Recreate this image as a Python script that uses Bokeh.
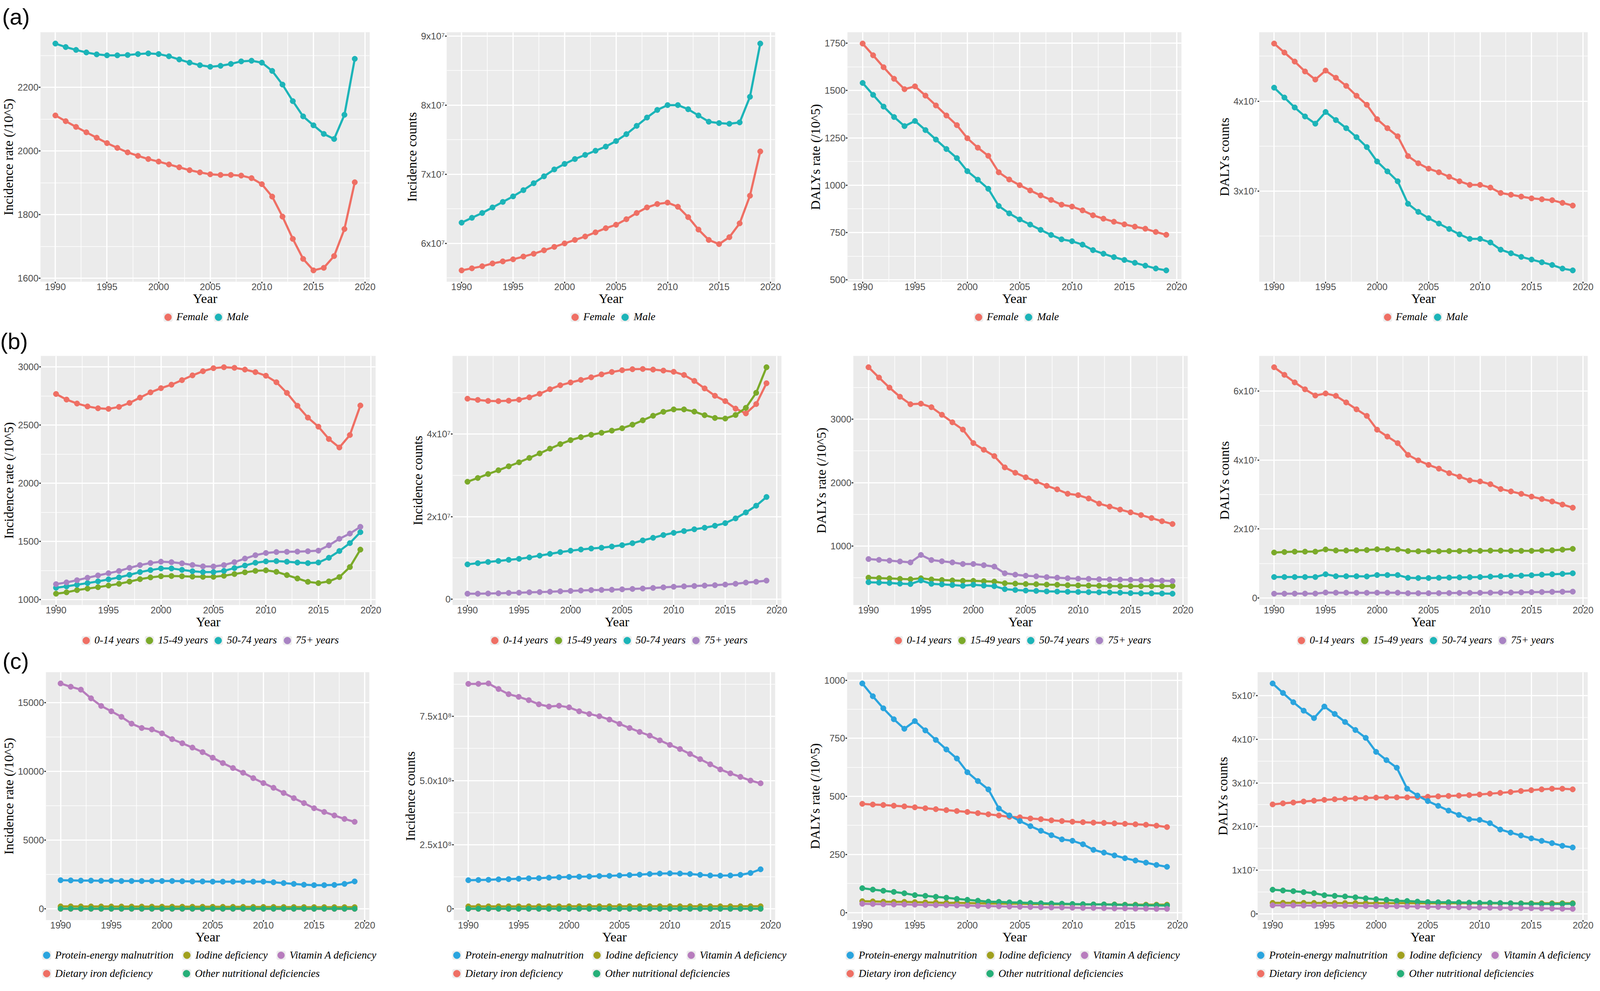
from bokeh.plotting import figure
from bokeh.models import Range1d, FixedTicker, Legend, LegendItem
from bokeh.layouts import row, column
from bokeh.embed import file_html
from bokeh.resources import INLINE

# ---------------- data ----------------
years = list(range(1990, 2020))
x_ticks = [1990, 1995, 2000, 2005, 2010, 2015, 2020]
x_minor = [1987.5, 1992.5, 1997.5, 2002.5, 2007.5, 2012.5, 2017.5]

sex_labels = ["Female", "Male"]
age_labels = ["0-14 years", "15-49 years", "50-74 years", "75+ years"]
cause_labels = ["Dietary iron deficiency", "Iodine deficiency",
                "Other nutritional deficiencies", "Protein-energy malnutrition",
                "Vitamin A deficiency"]

sex_colors = ["#EF6F64", "#1CB4B8"]
age_colors = ["#EF6F64", "#7BAA2A", "#1CB4B8", "#A883C3"]
cause_colors = ["#EF6F64", "#A0A01E", "#26AF78", "#2AA4DE", "#B77CBD"]

E7 = 1e7
E8 = 1e8

# (a) by sex
a_inc_rate_female = [2112, 2094, 2076, 2059, 2042, 2025, 2010, 1996, 1985, 1975, 1967, 1958, 1949, 1940, 1933,
                     1927, 1925, 1925, 1923, 1915, 1896, 1857, 1794, 1724, 1661, 1625, 1633, 1670, 1755, 1902]
a_inc_rate_male = [2338, 2327, 2318, 2310, 2304, 2301, 2301, 2302, 2305, 2307, 2305, 2298, 2288, 2278, 2270,
                   2265, 2268, 2274, 2282, 2284, 2278, 2252, 2209, 2157, 2109, 2081, 2054, 2038, 2114, 2290]
a_inc_cnt_female_e7 = [5.61, 5.64, 5.67, 5.71, 5.74, 5.77, 5.81, 5.85, 5.90, 5.95, 6.00, 6.05, 6.10, 6.16, 6.22,
                       6.27, 6.35, 6.44, 6.52, 6.57, 6.59, 6.53, 6.38, 6.20, 6.05, 5.99, 6.09, 6.29, 6.69, 7.33]
a_inc_cnt_male_e7 = [6.30, 6.37, 6.44, 6.52, 6.60, 6.68, 6.77, 6.87, 6.97, 7.07, 7.15, 7.22, 7.28, 7.34, 7.40,
                     7.48, 7.58, 7.70, 7.82, 7.93, 8.00, 8.00, 7.94, 7.85, 7.76, 7.74, 7.73, 7.75, 8.12, 8.89]
a_daly_rate_female = [1748, 1686, 1623, 1562, 1507, 1522, 1473, 1421, 1368, 1317, 1248, 1198, 1155, 1068, 1030,
                      1000, 972, 946, 922, 897, 887, 867, 841, 823, 807, 793, 781, 770, 753, 738]
a_daly_rate_male = [1540, 1477, 1415, 1360, 1312, 1339, 1291, 1241, 1191, 1143, 1074, 1029, 981, 890, 851,
                    819, 792, 764, 737, 714, 704, 686, 657, 638, 620, 605, 590, 575, 560, 550]
a_daly_cnt_female_e7 = [4.64, 4.54, 4.44, 4.33, 4.24, 4.34, 4.26, 4.17, 4.06, 3.96, 3.80, 3.70, 3.61, 3.39, 3.31,
                        3.25, 3.21, 3.16, 3.11, 3.07, 3.07, 3.04, 2.98, 2.96, 2.94, 2.92, 2.91, 2.90, 2.87, 2.84]
a_daly_cnt_male_e7 = [4.15, 4.04, 3.93, 3.83, 3.75, 3.88, 3.79, 3.70, 3.60, 3.49, 3.33, 3.22, 3.11, 2.86, 2.77,
                      2.70, 2.64, 2.58, 2.52, 2.47, 2.47, 2.43, 2.35, 2.31, 2.27, 2.24, 2.21, 2.18, 2.14, 2.12]

# (b) by age
b_inc_rate_0_14 = [2768, 2720, 2686, 2661, 2645, 2640, 2657, 2691, 2737, 2782, 2818, 2848, 2887, 2928, 2964,
                   2990, 2998, 2993, 2978, 2956, 2925, 2869, 2777, 2667, 2565, 2487, 2381, 2308, 2415, 2669]
b_inc_rate_15_49 = [1051, 1063, 1082, 1095, 1107, 1121, 1136, 1155, 1176, 1191, 1201, 1203, 1201, 1198, 1196,
                    1196, 1205, 1220, 1235, 1247, 1252, 1239, 1211, 1182, 1153, 1142, 1157, 1194, 1280, 1430]
b_inc_rate_50_74 = [1102, 1114, 1128, 1142, 1157, 1174, 1191, 1213, 1237, 1254, 1268, 1268, 1256, 1244, 1237,
                    1237, 1247, 1271, 1293, 1317, 1329, 1331, 1326, 1319, 1314, 1319, 1360, 1418, 1486, 1580]
b_inc_rate_75 = [1133, 1148, 1167, 1188, 1208, 1227, 1246, 1273, 1297, 1315, 1326, 1322, 1312, 1298, 1286,
                 1285, 1297, 1322, 1353, 1382, 1401, 1409, 1411, 1413, 1416, 1421, 1467, 1523, 1568, 1626]
b_inc_cnt_0_14_e7 = [4.854, 4.825, 4.801, 4.796, 4.806, 4.830, 4.887, 4.973, 5.084, 5.180, 5.247, 5.309, 5.372,
                     5.443, 5.501, 5.544, 5.568, 5.573, 5.559, 5.535, 5.506, 5.429, 5.285, 5.103, 4.925, 4.796,
                     4.614, 4.499, 4.724, 5.228]
b_inc_cnt_15_49_e7 = [2.844, 2.935, 3.031, 3.122, 3.218, 3.314, 3.420, 3.530, 3.645, 3.755, 3.851, 3.923, 3.981,
                      4.029, 4.081, 4.139, 4.225, 4.331, 4.441, 4.537, 4.595, 4.595, 4.542, 4.455, 4.388, 4.374,
                      4.460, 4.633, 4.997, 5.616]
b_inc_cnt_50_74_e7 = [0.844, 0.873, 0.902, 0.926, 0.954, 0.978, 1.012, 1.055, 1.098, 1.141, 1.175, 1.204, 1.228,
                      1.247, 1.276, 1.309, 1.357, 1.424, 1.487, 1.554, 1.607, 1.650, 1.693, 1.731, 1.779, 1.842,
                      1.957, 2.101, 2.264, 2.475]
b_inc_cnt_75_e7 = [0.134, 0.134, 0.139, 0.144, 0.153, 0.158, 0.168, 0.173, 0.182, 0.192, 0.201, 0.211, 0.221,
                   0.225, 0.230, 0.240, 0.249, 0.259, 0.273, 0.288, 0.302, 0.312, 0.321, 0.331, 0.340, 0.355,
                   0.374, 0.403, 0.422, 0.451]
b_daly_rate_0_14 = [3822, 3659, 3500, 3356, 3238, 3247, 3191, 3072, 2953, 2838, 2625, 2519, 2419, 2241, 2156,
                    2084, 2019, 1950, 1894, 1825, 1803, 1750, 1669, 1622, 1575, 1531, 1488, 1441, 1391, 1347]
b_daly_rate_15_49 = [500, 494, 488, 481, 475, 491, 472, 463, 456, 450, 450, 444, 438, 412, 406,
                     400, 397, 391, 388, 381, 378, 375, 372, 369, 366, 366, 366, 366, 366, 369]
b_daly_rate_50_74 = [428, 422, 416, 406, 400, 456, 403, 394, 384, 372, 388, 375, 366, 319, 306,
                     297, 291, 284, 281, 278, 275, 272, 269, 266, 263, 256, 253, 253, 250, 247]
b_daly_rate_75 = [794, 781, 769, 756, 741, 859, 778, 759, 741, 716, 716, 697, 675, 569, 547,
                  531, 522, 509, 500, 491, 484, 481, 475, 472, 469, 466, 463, 459, 453, 447]
b_daly_cnt_0_14_e7 = [6.69, 6.47, 6.25, 6.05, 5.87, 5.93, 5.86, 5.67, 5.47, 5.28, 4.88, 4.68, 4.49, 4.15, 3.99,
                      3.86, 3.75, 3.62, 3.52, 3.41, 3.38, 3.30, 3.16, 3.09, 3.02, 2.94, 2.87, 2.80, 2.71, 2.62]
b_daly_cnt_15_49_e7 = [1.320, 1.333, 1.345, 1.345, 1.345, 1.408, 1.379, 1.379, 1.385, 1.391, 1.414, 1.414, 1.408,
                       1.362, 1.356, 1.356, 1.356, 1.362, 1.362, 1.368, 1.368, 1.374, 1.374, 1.368, 1.368, 1.368,
                       1.379, 1.385, 1.402, 1.425]
b_daly_cnt_50_74_e7 = [0.609, 0.609, 0.609, 0.609, 0.609, 0.690, 0.632, 0.632, 0.632, 0.626, 0.667, 0.667, 0.667,
                       0.586, 0.580, 0.580, 0.586, 0.592, 0.598, 0.603, 0.609, 0.621, 0.632, 0.644, 0.649, 0.661,
                       0.678, 0.690, 0.701, 0.718]
b_daly_cnt_75_e7 = [0.126, 0.126, 0.128, 0.130, 0.130, 0.160, 0.155, 0.155, 0.152, 0.152, 0.155, 0.155, 0.155,
                    0.140, 0.140, 0.140, 0.142, 0.145, 0.148, 0.150, 0.152, 0.155, 0.158, 0.160, 0.165, 0.170,
                    0.175, 0.180, 0.183, 0.186]

# (c) by cause
c_inc_rate_iron = [0] * 30
c_inc_rate_iodine = [182, 180, 177, 176, 173, 171, 170, 167, 165, 163, 161, 160, 157, 155, 153,
                     151, 149, 147, 145, 142, 140, 138, 135, 132, 129, 127, 126, 125, 124, 124]
c_inc_rate_other = [14, 14, 13, 13, 13, 12, 12, 12, 11, 11, 11, 11, 10, 10, 10,
                    10, 10, 9, 9, 9, 9, 9, 9, 8, 8, 8, 8, 8, 8, 8]
c_inc_rate_pem = [2085, 2070, 2055, 2055, 2040, 2040, 2025, 2025, 2025, 2025, 2025, 2025, 2010, 1995, 1995,
                  1980, 1980, 1980, 1980, 1980, 1980, 1935, 1875, 1815, 1755, 1725, 1725, 1740, 1815, 1995]
c_inc_rate_vita = [16395, 16155, 15945, 15315, 14760, 14370, 13965, 13470, 13155, 13050, 12765, 12345, 12045,
                   11730, 11400, 10995, 10605, 10245, 9900, 9510, 9150, 8805, 8430, 8055, 7695, 7320, 7050,
                   6795, 6540, 6330]
c_inc_cnt_iron_e8 = [0] * 30
c_inc_cnt_iodine_e8 = [0.096, 0.097, 0.097, 0.098, 0.098, 0.098, 0.099, 0.099, 0.099, 0.099, 0.100, 0.100, 0.100,
                       0.100, 0.100, 0.100, 0.101, 0.101, 0.101, 0.101, 0.101, 0.101, 0.101, 0.100, 0.100, 0.100,
                       0.100, 0.100, 0.101, 0.102]
c_inc_cnt_other_e8 = [0.004, 0.004, 0.004, 0.004, 0.004, 0.004, 0.004, 0.004, 0.004, 0.004, 0.004, 0.004, 0.004,
                      0.004, 0.004, 0.004, 0.004, 0.004, 0.004, 0.004, 0.004, 0.004, 0.004, 0.004, 0.004, 0.004,
                      0.004, 0.004, 0.004, 0.004]
c_inc_cnt_pem_e8 = [1.117, 1.125, 1.133, 1.150, 1.158, 1.174, 1.190, 1.198, 1.214, 1.230, 1.246, 1.254, 1.262,
                    1.278, 1.286, 1.302, 1.318, 1.334, 1.359, 1.375, 1.383, 1.375, 1.359, 1.326, 1.302, 1.294,
                    1.302, 1.326, 1.399, 1.543]
c_inc_cnt_vita_e8 = [8.770, 8.770, 8.786, 8.569, 8.368, 8.264, 8.135, 7.974, 7.886, 7.918, 7.854, 7.701, 7.596,
                     7.508, 7.379, 7.211, 7.050, 6.897, 6.752, 6.568, 6.391, 6.230, 6.037, 5.836, 5.635, 5.434,
                     5.281, 5.145, 5.000, 4.895]
c_daly_rate_iron = [468, 465, 463, 460, 457, 453, 449, 445, 441, 437, 433, 428, 423, 418, 412,
                    410, 405, 402, 397, 394, 391, 389, 387, 386, 384, 382, 380, 378, 374, 368]
c_daly_rate_iodine = [49, 48, 47, 46, 46, 45, 44, 43, 42, 42, 41, 40, 39, 39, 38,
                      38, 37, 37, 36, 36, 36, 35, 35, 35, 35, 34, 34, 34, 34, 34]
c_daly_rate_other = [105, 99, 94, 89, 83, 75, 72, 68, 64, 59, 55, 51, 47, 46, 44,
                     43, 41, 40, 39, 38, 37, 36, 35, 35, 34, 33, 32, 31, 31, 30]
c_daly_rate_pem = [986, 931, 879, 832, 791, 824, 784, 743, 702, 663, 604, 566, 530, 448, 418,
                   394, 372, 352, 333, 315, 309, 294, 270, 258, 246, 234, 224, 215, 205, 197]
c_daly_rate_vita = [38, 37, 36, 35, 35, 34, 33, 32, 32, 31, 30, 29, 28, 27, 26,
                    25, 24, 23, 22, 22, 21, 20, 20, 19, 18, 18, 17, 17, 16, 16]
c_daly_cnt_iron_e7 = [2.507, 2.531, 2.550, 2.573, 2.592, 2.611, 2.625, 2.635, 2.644, 2.653, 2.663, 2.668, 2.668,
                      2.668, 2.672, 2.682, 2.691, 2.701, 2.710, 2.720, 2.734, 2.753, 2.771, 2.790, 2.814, 2.833,
                      2.852, 2.866, 2.866, 2.852]
c_daly_cnt_iodine_e7 = [0.250, 0.251, 0.251, 0.250, 0.249, 0.248, 0.247, 0.246, 0.246, 0.245, 0.244, 0.244, 0.243,
                        0.243, 0.242, 0.242, 0.242, 0.241, 0.241, 0.241, 0.240, 0.240, 0.240, 0.240, 0.240, 0.240,
                        0.241, 0.241, 0.242, 0.243]
c_daly_cnt_other_e7 = [0.552, 0.534, 0.519, 0.496, 0.472, 0.425, 0.411, 0.397, 0.378, 0.354, 0.335, 0.321, 0.297,
                       0.293, 0.279, 0.269, 0.264, 0.264, 0.260, 0.255, 0.250, 0.250, 0.246, 0.241, 0.236, 0.231,
                       0.227, 0.227, 0.227, 0.231]
c_daly_cnt_pem_e7 = [5.279, 5.061, 4.849, 4.655, 4.485, 4.750, 4.580, 4.396, 4.212, 4.032, 3.711, 3.522, 3.347,
                     2.866, 2.710, 2.583, 2.474, 2.365, 2.266, 2.167, 2.153, 2.077, 1.931, 1.860, 1.794, 1.728,
                     1.671, 1.619, 1.558, 1.520]
c_daly_cnt_vita_e7 = [0.194, 0.193, 0.192, 0.190, 0.189, 0.188, 0.186, 0.184, 0.182, 0.180, 0.178, 0.176, 0.174,
                      0.170, 0.166, 0.162, 0.158, 0.154, 0.150, 0.146, 0.143, 0.140, 0.136, 0.133, 0.130, 0.127,
                      0.124, 0.120, 0.116, 0.113]

# ---------------- helpers ----------------
SUP = {7: "\u2077", 8: "\u2078"}


def sci_labels(ticks, exp, decimals=0):
    out = {}
    for t in ticks:
        if t == 0:
            out[t] = "0"
        else:
            out[t] = f"{t / 10 ** exp:.{decimals}f}x10{SUP[exp]}"
    return out


def scaled(arr, s):
    return [v * s for v in arr]


TICK_FONT = "Liberation Sans"
TITLE_FONT = "Liberation Serif"
GLYPH = 44
LINE_W = 5.5
PT_SIZE = 14
KEY_BG = "#EDEDED"


def build(series, ylabel, yticks, yminor, overrides, width, height, left, right, top, bottom,
          tag, tag_standoff):
    vals_all = [v for _, vals, _ in series for v in vals]
    lo, hi = min(vals_all), max(vals_all)
    ypad = 0.05 * (hi - lo)
    xpad = 0.05 * (years[-1] - years[0])
    p = figure(width=width, height=height, output_backend="svg", toolbar_location=None, title=tag,
               x_range=Range1d(years[0] - xpad, years[-1] + xpad),
               y_range=Range1d(lo - ypad, hi + ypad),
               min_border_left=left, min_border_right=right,
               min_border_top=top, min_border_bottom=bottom)
    p.title.align = "left"
    p.title.offset = -left
    p.title.standoff = tag_standoff
    p.title.text_font = TICK_FONT
    p.title.text_font_size = "58px"
    p.title.text_font_style = "normal"
    p.title.text_color = "black"

    p.background_fill_color = "#EBEBEB"
    p.border_fill_color = "white"
    p.outline_line_color = None

    p.xaxis.ticker = FixedTicker(ticks=x_ticks, minor_ticks=x_minor)
    p.yaxis.ticker = FixedTicker(ticks=yticks, minor_ticks=yminor)
    if overrides:
        p.yaxis.major_label_overrides = overrides
    p.xaxis.axis_label = "Year"
    p.yaxis.axis_label = ylabel
    for ax in (p.xaxis[0], p.yaxis[0]):
        ax.axis_line_color = None
        ax.major_tick_line_color = "#333333"
        ax.major_tick_line_width = 3
        ax.major_tick_out = 4
        ax.major_tick_in = 0
        ax.minor_tick_line_color = None
        ax.major_label_text_font = TICK_FONT
        ax.major_label_text_font_size = "24px"
        ax.major_label_text_color = "#4D4D4D"
        ax.axis_label_text_font = TITLE_FONT
        ax.axis_label_text_font_size = "34px"
        ax.axis_label_text_font_style = "normal"
        ax.axis_label_text_color = "black"
    p.xaxis.major_label_standoff = 0
    p.xaxis.axis_label_standoff = 0
    p.yaxis.major_label_standoff = 1
    p.yaxis.axis_label_standoff = 2
    for g in (p.xgrid[0], p.ygrid[0]):
        g.grid_line_color = "white"
        g.grid_line_width = 3.2
        g.minor_grid_line_color = "white"
        g.minor_grid_line_width = 1.6

    for name, vals, color in series:
        p.line(years, vals, line_color=color, line_width=LINE_W)
    for name, vals, color in series:
        p.scatter(years, vals, size=PT_SIZE, fill_color=color, line_color=color, line_width=1)
    return p


LEG_COMMON = dict(orientation="horizontal", glyph_width=GLYPH, glyph_height=GLYPH, label_standoff=0,
                  border_line_color=None, background_fill_alpha=0, padding=0, margin=0,
                  label_text_font=TITLE_FONT, label_text_font_style="italic",
                  label_text_font_size="27px", label_text_color="black")


def legend_fig(series, width, height, left, right, mode):
    single = mode == "single"
    # the legend strip has its own (unit) ranges; the series drawn here fall outside it and
    # only serve as legend glyph sources
    lf = figure(width=width, height=height, output_backend="svg", toolbar_location=None, title=None,
                x_range=Range1d(0, 1), y_range=Range1d(0, 1), x_axis_type=None, y_axis_type=None,
                min_border_left=left if single else 0, min_border_right=right if single else 0,
                min_border_top=0, min_border_bottom=0)
    lf.outline_line_color = None
    lf.background_fill_color = "white"
    lf.border_fill_color = "white"
    first_vals = series[0][1]
    key_bg = lf.scatter(years, first_vals, marker="square", fill_color=KEY_BG, line_color=KEY_BG,
                        line_width=6)
    rends = {}
    for name, vals, color in series:
        rends[name] = lf.scatter(years, vals, size=PT_SIZE, fill_color=color, line_color=color, line_width=1)
    if single:
        items = [LegendItem(label=n, renderers=[key_bg, rends[n]]) for n, _, _ in series]
        lf.add_layout(Legend(items=items, location="center", spacing=4, **LEG_COMMON))
    else:
        row1 = ["Protein-energy malnutrition", "Iodine deficiency", "Vitamin A deficiency"]
        row2 = ["Dietary iron deficiency", "Other nutritional deficiencies"]
        lf.add_layout(Legend(items=[LegendItem(label=n, renderers=[key_bg, rends[n]]) for n in row1],
                             location=(left - 14, height - GLYPH), spacing=12, **LEG_COMMON))
        lf.add_layout(Legend(items=[LegendItem(label=n, renderers=[key_bg, rends[n]]) for n in row2],
                             location=(left - 14, height - GLYPH - 47), spacing=12, label_width=302,
                             **LEG_COMMON))
    return lf


widths = [1025, 1025, 1025, 1009]

# ---- row (a) ----
A = dict(height=791, top=82, bottom=70, leg_h=41, tag="(a)", standoff=15)
a_left = [98, 118, 119, 148]
a_right = [79, 66, 51, 20]


def sex_series(f, m):
    return [(sex_labels[0], f, sex_colors[0]), (sex_labels[1], m, sex_colors[1])]


a_panels = [
    (sex_series(a_inc_rate_female, a_inc_rate_male), "Incidence rate (/10^5)",
     [1600, 1800, 2000, 2200], [1700, 1900, 2100, 2300], None),
    (sex_series(scaled(a_inc_cnt_female_e7, E7), scaled(a_inc_cnt_male_e7, E7)), "Incidence counts",
     [6e7, 7e7, 8e7, 9e7], [5.5e7, 6.5e7, 7.5e7, 8.5e7], sci_labels([6e7, 7e7, 8e7, 9e7], 7)),
    (sex_series(a_daly_rate_female, a_daly_rate_male), "DALYs rate (/10^5)",
     [500, 750, 1000, 1250, 1500, 1750], [625, 875, 1125, 1375, 1625], None),
    (sex_series(scaled(a_daly_cnt_female_e7, E7), scaled(a_daly_cnt_male_e7, E7)), "DALYs counts",
     [3e7, 4e7], [2.5e7, 3.5e7, 4.5e7], sci_labels([3e7, 4e7], 7)),
]

# ---- row (b) ----
B = dict(height=787, top=79, bottom=70, leg_h=41, tag="(b)", standoff=12)
b_left = [104, 133, 134, 148]
b_right = [64, 50, 35, 20]


def age_series(*arrs):
    return [(age_labels[i], arrs[i], age_colors[i]) for i in range(4)]


b_panels = [
    (age_series(b_inc_rate_0_14, b_inc_rate_15_49, b_inc_rate_50_74, b_inc_rate_75), "Incidence rate (/10^5)",
     [1000, 1500, 2000, 2500, 3000], [1250, 1750, 2250, 2750], None),
    (age_series(*[scaled(a, E7) for a in (b_inc_cnt_0_14_e7, b_inc_cnt_15_49_e7, b_inc_cnt_50_74_e7,
                                          b_inc_cnt_75_e7)]), "Incidence counts",
     [0, 2e7, 4e7], [1e7, 3e7, 5e7], sci_labels([0, 2e7, 4e7], 7)),
    (age_series(b_daly_rate_0_14, b_daly_rate_15_49, b_daly_rate_50_74, b_daly_rate_75), "DALYs rate (/10^5)",
     [1000, 2000, 3000], [500, 1500, 2500, 3500], None),
    (age_series(*[scaled(a, E7) for a in (b_daly_cnt_0_14_e7, b_daly_cnt_15_49_e7, b_daly_cnt_50_74_e7,
                                          b_daly_cnt_75_e7)]), "DALYs counts",
     [0, 2e7, 4e7, 6e7], [1e7, 3e7, 5e7], sci_labels([0, 2e7, 4e7, 6e7], 7)),
]

# ---- row (c) ----
C = dict(height=764, top=61, bottom=68, leg_h=96, tag="(c)", standoff=-6)
c_left = [111, 136, 118, 144]
c_right = [80, 66, 49, 20]


def cause_series(*arrs):
    return [(cause_labels[i], arrs[i], cause_colors[i]) for i in range(5)]


c_panels = [
    (cause_series(c_inc_rate_iron, c_inc_rate_iodine, c_inc_rate_other, c_inc_rate_pem, c_inc_rate_vita),
     "Incidence rate (/10^5)", [0, 5000, 10000, 15000], [2500, 7500, 12500], None),
    (cause_series(*[scaled(a, E8) for a in (c_inc_cnt_iron_e8, c_inc_cnt_iodine_e8, c_inc_cnt_other_e8,
                                            c_inc_cnt_pem_e8, c_inc_cnt_vita_e8)]),
     "Incidence counts", [0, 2.5e8, 5e8, 7.5e8], [1.25e8, 3.75e8, 6.25e8, 8.75e8],
     sci_labels([0, 2.5e8, 5e8, 7.5e8], 8, 1)),
    (cause_series(c_daly_rate_iron, c_daly_rate_iodine, c_daly_rate_other, c_daly_rate_pem, c_daly_rate_vita),
     "DALYs rate (/10^5)", [0, 250, 500, 750, 1000], [125, 375, 625, 875], None),
    (cause_series(*[scaled(a, E7) for a in (c_daly_cnt_iron_e7, c_daly_cnt_iodine_e7, c_daly_cnt_other_e7,
                                            c_daly_cnt_pem_e7, c_daly_cnt_vita_e7)]),
     "DALYs counts", [0, 1e7, 2e7, 3e7, 4e7, 5e7], [0.5e7, 1.5e7, 2.5e7, 3.5e7, 4.5e7],
     sci_labels([0, 1e7, 2e7, 3e7, 4e7, 5e7], 7)),
]


def build_rows(panels, geom, lefts, rights, mode):
    mains, legs = [], []
    for i, (series, ylabel, yt, ym, ov) in enumerate(panels):
        tag = geom["tag"] if i == 0 else " "
        mains.append(build(series, ylabel, yt, ym, ov, widths[i], geom["height"], lefts[i], rights[i],
                           geom["top"], geom["bottom"], tag, geom["standoff"]))
        legs.append(legend_fig(series, widths[i], geom["leg_h"], lefts[i], rights[i], mode))
    return [row(*mains, spacing=0), row(*legs, spacing=0)]


layout = column(
    *build_rows(a_panels, A, a_left, a_right, "single"),
    *build_rows(b_panels, B, b_left, b_right, "single"),
    *build_rows(c_panels, C, c_left, c_right, "double"),
    spacing=0,
)

open("out.html", "w").write(file_html(layout, INLINE))
